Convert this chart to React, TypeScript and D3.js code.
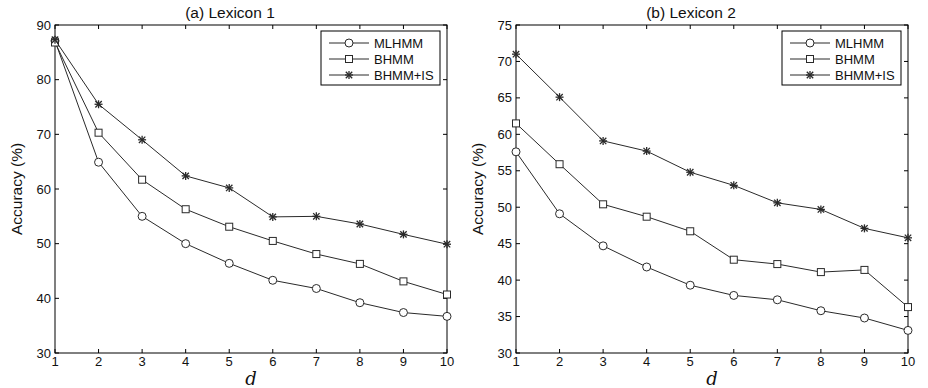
import React from "react";
import * as d3 from "d3";

const dValues = [1, 2, 3, 4, 5, 6, 7, 8, 9, 10];
const seriesNames = ["MLHMM", "BHMM", "BHMM+IS"];
const markers = ["circle", "square", "star"];

const lex1MLHMM = [87.1, 64.9, 55.0, 50.0, 46.4, 43.3, 41.8, 39.2, 37.4, 36.7];
const lex1BHMM = [86.8, 70.3, 61.7, 56.3, 53.1, 50.5, 48.1, 46.3, 43.1, 40.7];
const lex1BHMMIS = [87.3, 75.5, 69.0, 62.4, 60.2, 54.9, 55.0, 53.6, 51.7, 49.9];

const lex2MLHMM = [57.6, 49.1, 44.7, 41.8, 39.3, 37.9, 37.3, 35.8, 34.8, 33.1];
const lex2BHMM = [61.5, 55.9, 50.4, 48.7, 46.7, 42.8, 42.2, 41.1, 41.4, 36.3];
const lex2BHMMIS = [71.0, 65.1, 59.1, 57.7, 54.8, 53.0, 50.6, 49.7, 47.1, 45.8];

const lex1Ticks = [30, 40, 50, 60, 70, 80, 90];
const lex2Ticks = [30, 35, 40, 45, 50, 55, 60, 65, 70, 75];

const panels = [
  { title: "(a) Lexicon 1", left: 55, domain: [30, 90], ticks: lex1Ticks, series: [lex1MLHMM, lex1BHMM, lex1BHMMIS] },
  { title: "(b) Lexicon 2", left: 516, domain: [30, 75], ticks: lex2Ticks, series: [lex2MLHMM, lex2BHMM, lex2BHMMIS] },
];

const W = 392;
const TOP = 25;
const BOTTOM = 353;
const FONT = "'Liberation Sans', Arial, Helvetica, sans-serif";
const LINE = "#2a2a2a";

function Marker({ type, x, y }: { type: string; x: number; y: number }) {
  if (type === "circle") return <circle cx={x} cy={y} r={4} fill="white" stroke={LINE} strokeWidth={1} />;
  if (type === "square") return <rect x={x - 3.5} y={y - 3.5} width={7} height={7} fill="white" stroke={LINE} strokeWidth={1} />;
  const s = 4;
  const d = s * 0.8;
  return (
    <g stroke={LINE} strokeWidth={1.3}>
      <line x1={x - s} y1={y} x2={x + s} y2={y} />
      <line x1={x} y1={y - s} x2={x} y2={y + s} />
      <line x1={x - d} y1={y - d} x2={x + d} y2={y + d} />
      <line x1={x - d} y1={y + d} x2={x + d} y2={y - d} />
    </g>
  );
}

function Panel({ p }: { p: (typeof panels)[number] }) {
  const x = d3.scaleLinear().domain([1, 10]).range([p.left, p.left + W]);
  const y = d3.scaleLinear().domain(p.domain).range([BOTTOM, TOP]);
  const line = d3.line<number>().x((_, i) => x(dValues[i])).y((v) => y(v));
  const tl = 4;
  const legX = p.left + W - 126;
  const legY = 31;
  return (
    <g>
      <text x={p.left + W / 2 - 21} y={18} textAnchor="middle" fontFamily={FONT} fontSize={15.5} fill="#111">{p.title}</text>
      {dValues.map((d) => (
        <g key={"x" + d}>
          <line x1={x(d)} x2={x(d)} y1={BOTTOM} y2={BOTTOM - tl} stroke="#000" />
          <line x1={x(d)} x2={x(d)} y1={TOP} y2={TOP + tl} stroke="#000" />
          <text x={x(d)} y={366} textAnchor="middle" fontFamily={FONT} fontSize={13} fill="#111">{d}</text>
        </g>
      ))}
      {p.ticks.map((t) => (
        <g key={"y" + t}>
          <line x1={p.left} x2={p.left + tl} y1={y(t)} y2={y(t)} stroke="#000" />
          <line x1={p.left + W} x2={p.left + W - tl} y1={y(t)} y2={y(t)} stroke="#000" />
          <text x={p.left - 4} y={y(t) + 4.5} textAnchor="end" fontFamily={FONT} fontSize={13} fill="#111">{t}</text>
        </g>
      ))}
      <rect x={p.left} y={TOP} width={W} height={BOTTOM - TOP} fill="none" stroke="#000" strokeWidth={1} />
      {p.series.map((s, si) => (
        <g key={"s" + si}>
          <path d={line(s) || ""} fill="none" stroke={LINE} strokeWidth={1} />
          {s.map((v, i) => (
            <Marker key={i} type={markers[si]} x={x(dValues[i])} y={y(v)} />
          ))}
        </g>
      ))}
      <text transform={`translate(${p.left - 33},${(TOP + BOTTOM) / 2}) rotate(-90)`} textAnchor="middle" fontFamily={FONT} fontSize={15.5} fill="#111">Accuracy (%)</text>
      <text x={p.left + W / 2} y={385} textAnchor="middle" fontFamily="'DejaVu Serif', 'Liberation Serif', serif" fontStyle="italic" fontSize={18} fill="#111">d</text>
      <rect x={legX} y={legY} width={119} height={54} fill="white" stroke="#000" strokeWidth={1} />
      {seriesNames.map((n, i) => {
        const ry = legY + 12 + i * 16;
        return (
          <g key={n}>
            <line x1={legX + 8} x2={legX + 48} y1={ry} y2={ry} stroke={LINE} />
            <Marker type={markers[i]} x={legX + 28} y={ry} />
            <text x={legX + 53} y={ry + 5} fontFamily={FONT} fontSize={13} fill="#111">{n}</text>
          </g>
        );
      })}
    </g>
  );
}

export default function App() {
  return (
    <svg width={928} height={388} style={{ position: "absolute", left: 0, top: 0, background: "white" }}>
      <rect width={928} height={388} fill="white" />
      {panels.map((p) => (
        <Panel key={p.title} p={p} />
      ))}
    </svg>
  );
}
